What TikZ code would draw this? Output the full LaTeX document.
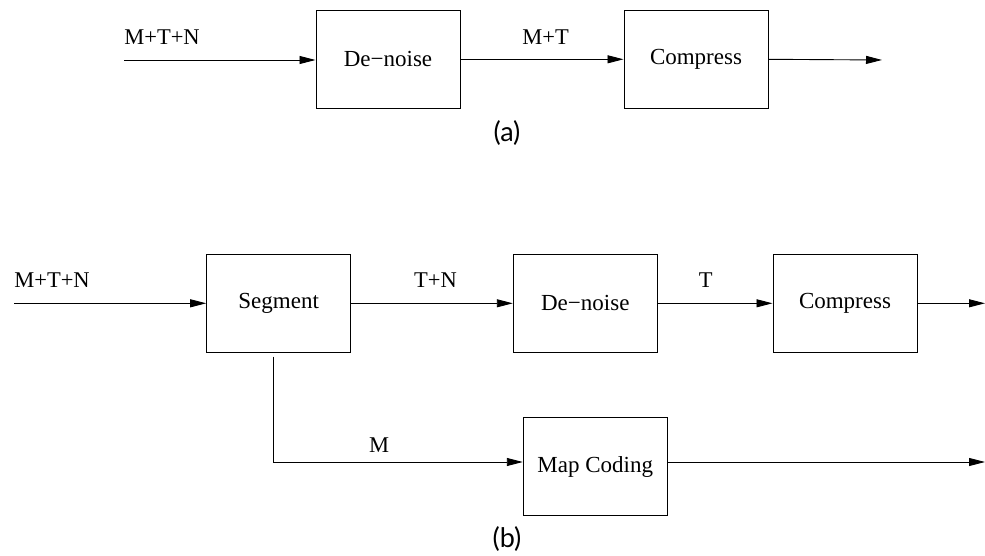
\documentclass[tikz,border=0pt]{standalone}
\usepackage{fontspec}
\setmainfont{Liberation Serif}
\newfontfamily\capfont{Lato}
\usetikzlibrary{arrows.meta}
\begin{document}
\begin{tikzpicture}[x=1pt,y=-1pt,
  blk/.style={draw,line width=1pt,minimum width=144pt,minimum height=98pt,inner sep=0pt,font=\fontsize{23}{26}\selectfont},
  lbl/.style={anchor=base,inner sep=0pt,font=\fontsize{22.5}{26}\selectfont},
  captxt/.style={inner sep=0pt,font=\capfont\fontsize{27}{30}\selectfont},
  conn/.style={line width=0.9pt,-{Triangle[length=16pt,width=8pt]}}]
\useasboundingbox (0,0) rectangle (985,556);
% (a)
\coordinate (ain) at (124,60);
\coordinate (aout) at (882,60);
\node[blk] (adn) at (388,59.3) {De−noise};
\node[blk] (acp) at (696,59.3) {Compress};
\draw[conn] (ain) -- (ain -| adn.west);
\draw[conn] (adn.east) -- (acp.west);
\draw[conn] (acp.east) -- (aout);
\node[lbl] (la1) at (162,45) {M+T+N};
\node[lbl] (la2) at (545.7,45) {M+T};
\node[captxt] (capa) at (507,133) {(a)};
% (b)
\coordinate (bin) at (14,303.3);
\coordinate (bout) at (985,303.3);
\coordinate (mout) at (985,462);
\node[blk] (seg) at (278.7,303.3) {Segment};
\node[blk] (bdn) at (585.3,303.3) {De−noise};
\node[blk] (bcp) at (845,303.3) {Compress};
\node[blk] (map) at (595.3,466.7) {Map Coding};
\coordinate (mstart) at (273.3,356.7);
\coordinate (mcorner) at (273.3,462);
\draw[conn] (bin) -- (bin -| seg.west);
\draw[conn] (seg.east) -- (bdn.west);
\draw[conn] (bdn.east) -- (bcp.west);
\draw[conn] (bcp.east) -- (bout);
\draw[conn] (mstart) -- (mcorner) -- (mcorner -| map.west);
\draw[conn] (mcorner -| map.east) -- (mout);
\node[lbl] (lb1) at (52,287.7) {M+T+N};
\node[lbl] (lb2) at (435.5,287.7) {T+N};
\node[lbl] (lb3) at (705.7,287.7) {T};
\node[lbl] (lb4) at (379,452) {M};
\node[captxt] (capb) at (507,539) {(b)};
\end{tikzpicture}
\end{document}
